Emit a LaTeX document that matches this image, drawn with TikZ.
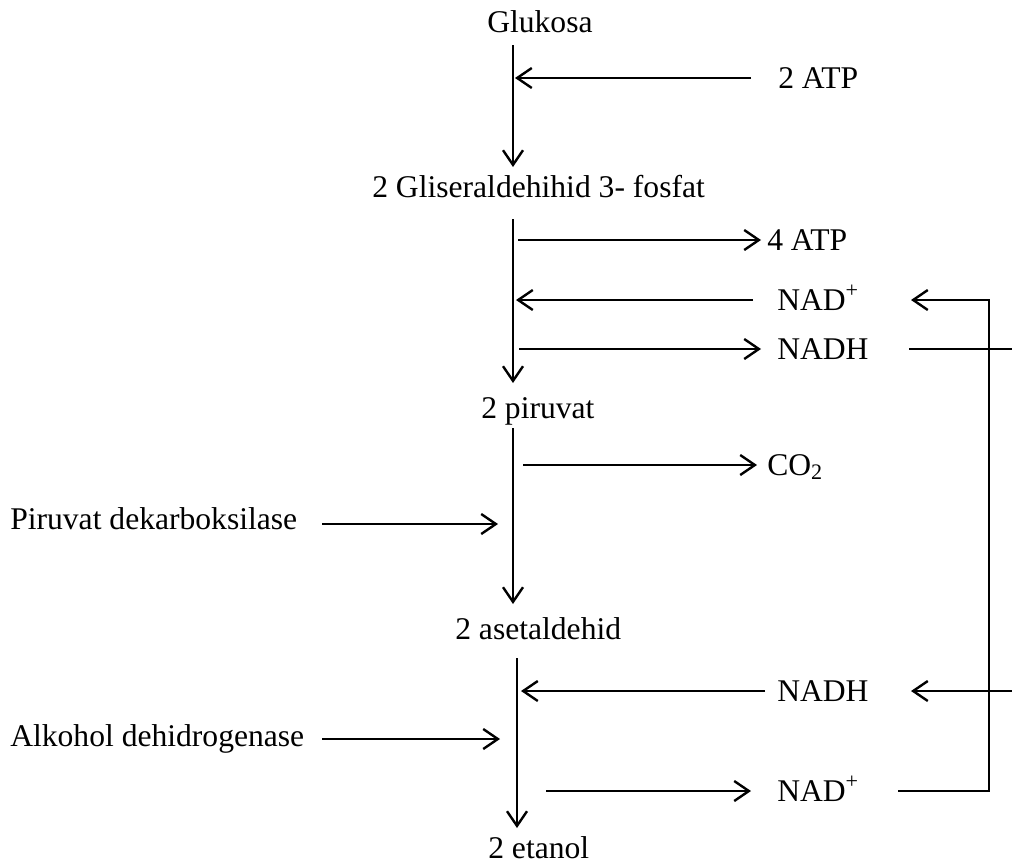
\documentclass[tikz,border=0pt]{standalone}
\usepackage{fontspec}
\setmainfont{Liberation Serif}
\usetikzlibrary{arrows.meta}
\tikzset{
  lbl/.style={anchor=base west, inner sep=0pt, font=\fontsize{23.7}{28}\selectfont},
  flow/.style={line width=1.8pt, -{Straight Barb[length=11pt,width=15pt]}},
  plain/.style={line width=1.8pt}
}
\begin{document}
\begin{tikzpicture}[x=0.75pt,y=-0.75pt]
\useasboundingbox (0,0) rectangle (1012,864);
% main chain
\node[lbl] (glu) at (487,32) {Glukosa};
\node[lbl] (gap) at (372,197) {2 Gliseraldehihid 3- fosfat};
\node[lbl] (pir) at (481,418) {2 piruvat};
\node[lbl] (ase) at (455,639) {2 asetaldehid};
\node[lbl] (eta) at (488,858) {2 etanol};
% side labels
\node[lbl] (atp2) at (778,88) {2 ATP};
\node[lbl] (atp4) at (767,250) {4 ATP};
\node[lbl] (nad1) at (777,310) {NAD\textsuperscript{+}};
\node[lbl] (nadh1) at (777,359) {NADH};
\node[lbl] (co2) at (767,475) {CO\textsubscript{2}};
\node[lbl] (pdc) at (10,529) {Piruvat dekarboksilase};
\node[lbl] (nadh2) at (777,701) {NADH};
\node[lbl] (adh) at (10,746) {Alkohol dehidrogenase};
\node[lbl] (nad2) at (777,801) {NAD\textsuperscript{+}};
% coordinates on the main lines
\coordinate (a1) at (513,45);  \coordinate (a2) at (513,167);
\coordinate (b1) at (513,219); \coordinate (b2) at (513,383);
\coordinate (c1) at (513,428); \coordinate (c2) at (513,604);
\coordinate (d1) at (517,658); \coordinate (d2) at (517,828);
\draw[flow] (a1) -- (a2);
\draw[flow] (b1) -- (b2);
\draw[flow] (c1) -- (c2);
\draw[flow] (d1) -- (d2);
% step 1
\coordinate (atp2s) at (751,78); \coordinate (atp2e) at (515,78);
\draw[flow] (atp2s) -- (atp2e);
% step 2
\coordinate (atp4s) at (518,240); \coordinate (atp4e) at (761,240);
\draw[flow] (atp4s) -- (atp4e);
\coordinate (nad1s) at (753,300); \coordinate (nad1e) at (516,300);
\draw[flow] (nad1s) -- (nad1e);
\coordinate (nadh1s) at (519,349); \coordinate (nadh1e) at (761,349);
\draw[flow] (nadh1s) -- (nadh1e);
% step 3
\coordinate (co2s) at (523,465); \coordinate (co2e) at (757,465);
\draw[flow] (co2s) -- (co2e);
\coordinate (pdcs) at (322,524); \coordinate (pdce) at (498,524);
\draw[flow] (pdcs) -- (pdce);
% step 4
\coordinate (nadh2s) at (765,691); \coordinate (nadh2e) at (521,691);
\draw[flow] (nadh2s) -- (nadh2e);
\coordinate (adhs) at (322,739); \coordinate (adhe) at (500,739);
\draw[flow] (adhs) -- (adhe);
\coordinate (nad2s) at (546,791); \coordinate (nad2e) at (751,791);
\draw[flow] (nad2s) -- (nad2e);
% recycling loops
\coordinate (r1) at (898,791); \coordinate (r2) at (989,791);
\coordinate (r3) at (989,300); \coordinate (r4) at (911,300);
\draw[flow] (r1) -- (r2) -- (r3) -- (r4);
\coordinate (q1) at (909,349); \coordinate (q2) at (1012,349);
\draw[plain] (q1) -- (q2);
\coordinate (q3) at (1012,691); \coordinate (q4) at (911,691);
\draw[flow] (q3) -- (q4);
\end{tikzpicture}
\end{document}
